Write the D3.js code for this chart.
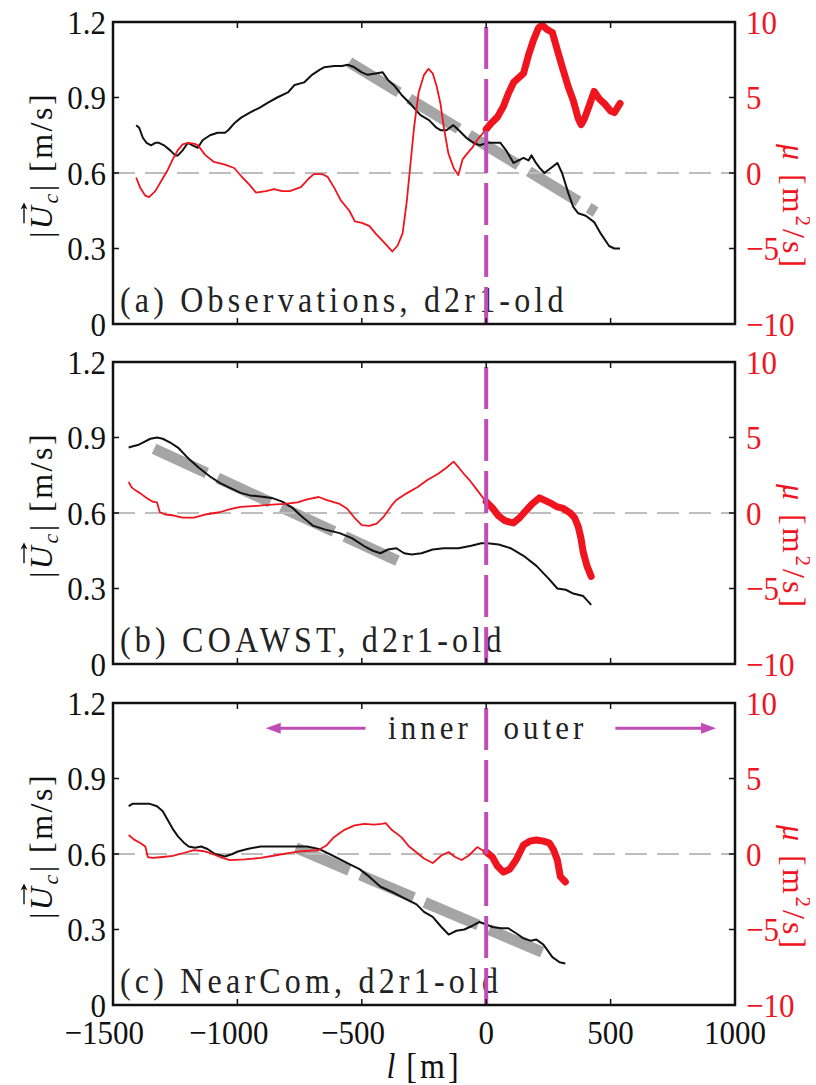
<!DOCTYPE html>
<html><head><meta charset="utf-8">
<script src="https://cdn.jsdelivr.net/npm/d3@7"></script>
<style>body{margin:0;background:#fff;} svg{display:block;}</style>
</head><body>
<svg id="chart" width="816" height="1085"></svg>
<script>
// ---------- data ----------
const xTicks = [-1500, -1000, -500, 0, 500, 1000];
const uTicks = [0, 0.3, 0.6, 0.9, 1.2];
const muTicks = [-10, -5, 0, 5, 10];
const panelLabels = ["(a) Observations, d2r1-old", "(b) COAWST, d2r1-old", "(c) NearCom, d2r1-old"];

// panel (a) observations: [l (m), |U_c| (m/s)]
const obsU = [[-1407,0.79],[-1395,0.78],[-1380,0.74],[-1365,0.72],[-1347,0.71],[-1330,0.72],[-1315,0.72],[-1295,0.71],[-1270,0.69],[-1250,0.67],[-1239,0.67],[-1220,0.69],[-1199,0.72],[-1180,0.71],[-1159,0.70],[-1140,0.73],[-1110,0.75],[-1080,0.76],[-1050,0.76],[-1037,0.77],[-1010,0.80],[-985,0.82],[-950,0.84],[-910,0.86],[-877,0.88],[-840,0.90],[-797,0.92],[-770,0.95],[-732,0.96],[-700,0.99],[-670,1.01],[-652,1.02],[-610,1.025],[-580,1.025],[-556,1.03],[-530,1.02],[-500,1.00],[-476,0.99],[-445,0.995],[-416,1.00],[-395,0.97],[-372,0.95],[-340,0.91],[-300,0.87],[-264,0.83],[-230,0.81],[-200,0.78],[-184,0.77],[-160,0.77],[-132,0.79],[-110,0.77],[-80,0.74],[-51,0.72],[-25,0.71],[5,0.72],[30,0.72],[57,0.72],[80,0.69],[110,0.64],[130,0.65],[150,0.66],[170,0.65],[182,0.67],[200,0.64],[215,0.62],[234,0.60],[260,0.62],[286,0.64],[305,0.60],[330,0.52],[350,0.465],[370,0.44],[400,0.43],[434,0.405],[460,0.36],[494,0.31],[515,0.30],[538,0.30]];
// panel (a) observations: [l (m), mu (m^2/s)]
const obsMu = [[-1407,-0.3],[-1390,-1.0],[-1370,-1.5],[-1355,-1.6],[-1330,-1.2],[-1305,-0.5],[-1280,0.2],[-1260,0.9],[-1240,1.5],[-1220,1.9],[-1199,2.0],[-1175,1.95],[-1159,1.85],[-1130,1.2],[-1094,0.73],[-1050,0.55],[-1013,0.33],[-985,-0.2],[-950,-0.8],[-925,-1.3],[-885,-1.2],[-853,-1.06],[-820,-1.2],[-790,-1.2],[-745,-0.93],[-715,-0.4],[-693,-0.07],[-660,-0.07],[-637,-0.26],[-610,-1.0],[-585,-1.8],[-550,-2.5],[-528,-3.2],[-500,-3.3],[-470,-3.5],[-445,-4.0],[-405,-4.7],[-377,-5.2],[-356,-4.8],[-336,-4.0],[-320,-2.0],[-304,0.66],[-290,3.0],[-272,5.3],[-250,6.5],[-232,6.9],[-215,6.6],[-200,5.8],[-184,4.6],[-168,2.8],[-152,1.3],[-130,0.3],[-112,-0.13],[-95,0.9],[-76,1.3],[-55,1.7],[-36,2.2],[-15,2.6],[0,2.9],[20,3.3],[45,3.7],[69,4.4],[90,5.3],[110,6.0],[130,6.3],[150,6.6],[170,7.8],[190,8.8],[210,9.6],[225,9.8],[245,9.5],[266,9.3],[285,8.2],[306,7.0],[330,5.7],[350,4.8],[370,3.6],[382,3.2],[395,3.6],[415,4.5],[434,5.4],[455,4.9],[475,4.6],[500,4.1],[515,4.0],[530,4.4],[538,4.6]];
const obsFit = [[-550,1.04],[440,0.445]];

// panel (b) COAWST
const coawstU = [[-1437,0.86],[-1420,0.865],[-1400,0.87],[-1380,0.88],[-1350,0.895],[-1323,0.90],[-1300,0.895],[-1270,0.88],[-1239,0.86],[-1200,0.82],[-1155,0.78],[-1110,0.745],[-1071,0.72],[-1030,0.70],[-987,0.68],[-950,0.67],[-900,0.665],[-862,0.66],[-820,0.645],[-778,0.62],[-740,0.585],[-697,0.55],[-650,0.535],[-589,0.52],[-540,0.50],[-485,0.465],[-455,0.45],[-425,0.44],[-395,0.455],[-361,0.46],[-330,0.44],[-300,0.435],[-260,0.44],[-215,0.455],[-170,0.46],[-111,0.46],[-60,0.47],[-20,0.48],[5,0.48],[50,0.475],[98,0.46],[150,0.43],[202,0.39],[250,0.34],[286,0.30],[320,0.295],[350,0.28],[390,0.27],[422,0.235]];
const coawstMu = [[-1437,2.05],[-1425,1.7],[-1410,1.5],[-1390,1.3],[-1365,1.0],[-1340,0.75],[-1323,0.7],[-1312,0.05],[-1290,-0.1],[-1260,-0.15],[-1220,-0.3],[-1175,-0.3],[-1130,-0.1],[-1071,0.05],[-1030,0.25],[-987,0.4],[-940,0.45],[-900,0.5],[-862,0.55],[-810,0.6],[-758,0.7],[-720,0.9],[-673,1.06],[-640,0.85],[-610,0.7],[-589,0.6],[-560,0.3],[-530,-0.3],[-500,-0.8],[-470,-0.85],[-440,-0.7],[-410,-0.2],[-380,0.5],[-361,0.86],[-320,1.3],[-277,1.7],[-235,2.2],[-193,2.6],[-160,3.0],[-131,3.4],[-110,3.0],[-90,2.6],[-68,2.2],[-40,1.6],[-6,0.86],[0,0.75],[25,0.33],[50,-0.2],[75,-0.5],[95,-0.6],[110,-0.66],[135,-0.3],[162,0.2],[185,0.6],[214,1.0],[240,0.8],[265,0.6],[286,0.4],[310,0.3],[338,0.0],[355,-0.3],[370,-0.9],[380,-1.6],[390,-2.6],[405,-3.5],[422,-4.2]];
const coawstFit = [[-1335,0.855],[-345,0.405]];

// panel (c) NearCom
const nearcomU = [[-1437,0.79],[-1420,0.80],[-1390,0.80],[-1355,0.80],[-1323,0.79],[-1300,0.77],[-1280,0.735],[-1260,0.70],[-1239,0.67],[-1215,0.645],[-1196,0.63],[-1170,0.625],[-1146,0.63],[-1120,0.62],[-1090,0.60],[-1050,0.59],[-1020,0.60],[-998,0.61],[-960,0.62],[-906,0.63],[-850,0.63],[-778,0.63],[-720,0.63],[-673,0.62],[-630,0.60],[-589,0.58],[-550,0.56],[-509,0.54],[-470,0.51],[-425,0.47],[-380,0.45],[-340,0.43],[-320,0.42],[-280,0.40],[-250,0.37],[-215,0.35],[-180,0.31],[-151,0.28],[-120,0.295],[-88,0.30],[-55,0.315],[-27,0.33],[0,0.32],[25,0.31],[60,0.305],[89,0.305],[120,0.285],[150,0.265],[180,0.255],[202,0.26],[230,0.24],[266,0.19],[295,0.17],[318,0.165]];
const nearcomMu = [[-1437,1.26],[-1415,0.95],[-1390,0.73],[-1370,0.5],[-1360,-0.2],[-1340,-0.26],[-1300,-0.2],[-1260,-0.13],[-1220,0.05],[-1175,0.26],[-1140,0.2],[-1110,0.07],[-1070,-0.2],[-1030,-0.4],[-970,-0.35],[-906,-0.26],[-850,-0.1],[-790,0.07],[-730,0.2],[-673,0.26],[-640,0.6],[-613,1.1],[-570,1.6],[-529,1.9],[-490,2.0],[-450,1.95],[-420,2.0],[-404,2.05],[-380,1.6],[-340,1.1],[-310,0.5],[-277,0.07],[-250,-0.3],[-215,-0.6],[-180,-0.1],[-151,0.13],[-125,-0.2],[-99,-0.4],[-70,-0.1],[-36,0.46],[-20,0.3],[0,0.13],[25,-0.2],[45,-0.8],[69,-1.2],[95,-1.0],[120,-0.4],[135,0.1],[150,0.6],[175,0.85],[202,0.93],[230,0.85],[254,0.73],[270,0.3],[286,-0.4],[298,-1.5],[310,-1.7],[318,-1.85]];
const nearcomFit = [[-765,0.625],[225,0.21]];

// annotation in panel (c): [l, U]
const innerArrow = [[-485,1.10],[-886,1.10]];
const outerArrow = [[519,1.10],[924,1.10]];
const innerText = {text:"inner", l:-58, u:1.057};
const outerText = {text:"outer", l:70, u:1.057};

const panels = [
  {u: obsU, mu: obsMu, fit: obsFit, label: panelLabels[0]},
  {u: coawstU, mu: coawstMu, fit: coawstFit, label: panelLabels[1]},
  {u: nearcomU, mu: nearcomMu, fit: nearcomFit, label: panelLabels[2]}
];

// ---------- layout ----------
const svg = d3.select("#chart");
const FONT = "'Liberation Serif', 'Times New Roman', serif";
const FS = 31, SY = 1.1;
const left = 113, right = 735, ph = 302;
const tops = [22, 362, 703];
const RED = "#f0141e", MAG = "#c04db6";
const x = d3.scaleLinear().domain([-1500, 1000]).range([left, right]);

function txt(g, px, py, s, anchor, color, opts={}) {
  const t = g.append("text")
    .attr("transform", `translate(${px},${py}) scale(1,${SY})`)
    .attr("text-anchor", anchor)
    .style("font-family", FONT)
    .style("font-size", (opts.size || FS) + "px")
    .style("fill", color || "#000")
    .text(s);
  if (opts.ls) t.style("letter-spacing", opts.ls + "px");
  return t;
}

panels.forEach((p, i) => {
  const top = tops[i], bot = top + ph;
  const yU = d3.scaleLinear().domain([0, 1.2]).range([bot, top]);
  const yM = d3.scaleLinear().domain([-10, 10]).range([bot, top]);
  const g = svg.append("g");

  // fit line
  g.append("path")
    .attr("d", d3.line().x(d => x(d[0])).y(d => yU(d[1]))(p.fit))
    .attr("fill", "none").attr("stroke", "#a5a5a5").attr("stroke-width", 11)
    .attr("stroke-dasharray", "58,12");

  // zero line of mu
  g.append("line")
    .attr("x1", left).attr("x2", right).attr("y1", yM(0)).attr("y2", yM(0))
    .attr("stroke", "#bdbdbd").attr("stroke-width", 2).attr("stroke-dasharray", "22,10");

  // velocity
  g.append("path")
    .attr("d", d3.line().x(d => x(d[0])).y(d => yU(d[1]))(p.u))
    .attr("fill", "none").attr("stroke", "#111").attr("stroke-width", 2).attr("stroke-linejoin", "round");

  // mu thin (inner) / thick (outer)
  const inner = p.mu.filter(d => d[0] <= 0), outer = p.mu.filter(d => d[0] >= 0);
  const lm = d3.line().x(d => x(d[0])).y(d => yM(d[1]));
  g.append("path").attr("d", lm(inner)).attr("fill", "none").attr("stroke", RED)
    .attr("stroke-width", 1.8).attr("stroke-linejoin", "round");
  g.append("path").attr("d", lm(outer)).attr("fill", "none").attr("stroke", RED)
    .attr("stroke-width", 7).attr("stroke-linejoin", "round").attr("stroke-linecap", "round");

  // panel label
  txt(g, left + 7, bot - 12, p.label, "start", "#222", {size: 32, ls: 4.2});

  // annotations (c)
  if (i === 2) {
    [innerArrow, outerArrow].forEach(a => {
      const x0 = x(a[0][0]), x1 = x(a[1][0]), yy = yU(a[0][1]);
      const dir = Math.sign(x1 - x0);
      g.append("line").attr("x1", x0).attr("x2", x1 - dir * 12).attr("y1", yy).attr("y2", yy)
        .attr("stroke", MAG).attr("stroke-width", 3);
      g.append("path")
        .attr("d", `M${x1},${yy} L${x1 - dir * 15},${yy - 5.5} L${x1 - dir * 15},${yy + 5.5} Z`)
        .attr("fill", MAG);
    });
    txt(g, x(innerText.l), yU(innerText.u), innerText.text, "end", "#222", {size: 31, ls: 4});
    txt(g, x(outerText.l), yU(outerText.u), outerText.text, "start", "#222", {size: 31, ls: 4});
  }

  // vertical magenta line at l=0
  g.append("line").attr("x1", x(0)).attr("x2", x(0)).attr("y1", top + 5).attr("y2", bot)
    .attr("stroke", MAG).attr("stroke-width", 4).attr("stroke-dasharray", "42,10");

  // box
  g.append("rect").attr("x", left).attr("y", top).attr("width", right - left).attr("height", ph)
    .attr("fill", "none").attr("stroke", "#111").attr("stroke-width", 2.5);

  // ticks (inward)
  const TL = 6;
  xTicks.slice(1, -1).forEach(t => {
    g.append("line").attr("x1", x(t)).attr("x2", x(t)).attr("y1", bot).attr("y2", bot - TL).attr("stroke", "#111").attr("stroke-width", 1.5);
    g.append("line").attr("x1", x(t)).attr("x2", x(t)).attr("y1", top).attr("y2", top + TL).attr("stroke", "#111").attr("stroke-width", 1.5);
  });
  uTicks.slice(1, -1).forEach(t => {
    g.append("line").attr("x1", left).attr("x2", left + TL).attr("y1", yU(t)).attr("y2", yU(t)).attr("stroke", "#111").attr("stroke-width", 1.5);
  });
  muTicks.slice(1, -1).forEach(t => {
    g.append("line").attr("x1", right).attr("x2", right - TL).attr("y1", yM(t)).attr("y2", yM(t)).attr("stroke", "#111").attr("stroke-width", 1.5);
  });

  // tick labels
  uTicks.forEach(t => txt(g, 106, yU(t) + 11.5, String(t), "end", "#111"));
  muTicks.forEach(t => txt(g, 746, yM(t) + 11.5, (t < 0 ? "\u2212" : "") + Math.abs(t), "start", RED));

  // y label left
  const gl = g.append("g").attr("transform", `translate(52,${top + 143}) rotate(-90)`);
  const tl = gl.append("text").attr("text-anchor", "middle")
    .style("font-family", FONT).style("font-size", "32px").style("fill", "#111").style("letter-spacing", "2.5px");
  tl.append("tspan").text("|");
  tl.append("tspan").style("font-style", "italic").text("U");
  tl.append("tspan").style("font-style", "italic").style("font-size", "22px").attr("dy", 6).text("c");
  tl.append("tspan").attr("dy", -6).text("|");
  tl.append("tspan").text(" [m/s]");
  const n = tl.node();
  const s0 = n.getStartPositionOfChar(1).x, e0 = n.getEndPositionOfChar(1).x;
  const ay = -28, ax0 = s0 + 6, ax1 = e0 + 1;
  gl.append("line").attr("x1", ax0).attr("x2", ax1 - 3).attr("y1", ay).attr("y2", ay).attr("stroke", "#111").attr("stroke-width", 1.4);
  gl.append("path").attr("d", `M${ax1},${ay} L${ax1 - 7},${ay - 3.5} L${ax1 - 5},${ay} L${ax1 - 7},${ay + 3.5} Z`).attr("fill", "#111");

  // y label right
  const gr = g.append("g").attr("transform", `translate(783,${top + 185}) rotate(90)`);
  const tr = gr.append("text").attr("text-anchor", "middle")
    .style("font-family", FONT).style("font-size", "32px").style("fill", RED).style("letter-spacing", "3px");
  tr.append("tspan").style("font-style", "italic").text("\u03BC");
  tr.append("tspan").text(" [m");
  tr.append("tspan").style("font-size", "21px").attr("dy", -13).text("2");
  tr.append("tspan").attr("dy", 13).text("/s]");

  // x tick labels on bottom panel only
  if (i === 2) {
    xTicks.forEach(t => {
      const digits = String(Math.abs(t));
      const tt = txt(g, x(t), bot + 39, digits, "middle", "#111");
      if (t < 0) {
        const w = tt.node().getComputedTextLength();
        txt(g, x(t) - w / 2, bot + 39, "\u2212", "end", "#111");
      }
    });
    const xl = g.append("text").attr("transform", `translate(${(left + right) / 2},${bot + 73}) scale(1,${SY})`)
      .attr("text-anchor", "middle").style("font-family", FONT).style("font-size", "32px").style("fill", "#111");
    xl.append("tspan").style("font-style", "italic").text("l");
    xl.append("tspan").style("letter-spacing", "3px").text("  [m]");
  }
});
</script>
</body></html>
